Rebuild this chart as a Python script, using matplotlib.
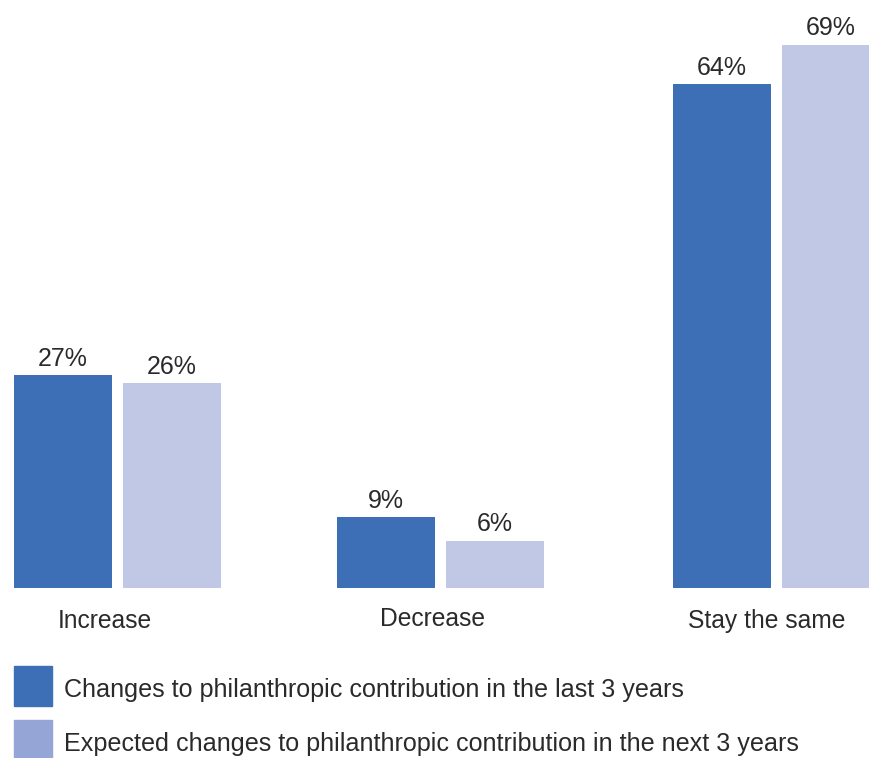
import matplotlib
matplotlib.use("Agg")
import matplotlib.pyplot as plt
from matplotlib.patches import Rectangle

categories = ["Increase", "Decrease", "Stay the same"]
last_3 = [27, 9, 64]
next_3 = [26, 6, 69]
series_names = ["Changes to philanthropic contribution in the last 3 years",
                "Expected changes to philanthropic contribution in the next 3 years"]

dark = "#3d6fb6"
light = "#c0c8e6"
light_legend = "#94a5d6"

plt.rcParams['font.family'] = ['Liberation Sans', 'DejaVu Sans']

fig = plt.figure(figsize=(8.69, 7.58), dpi=100)
ax = fig.add_axes([0, 0, 1, 1])
# pixel-like coordinates: x in px, y in percent with baseline 588px from top
px_per_pct = 7.875
base = 588
ax.set_xlim(0, 869)
ax.set_ylim(-(758 - base) / px_per_pct, base / px_per_pct)
ax.axis("off")


def ypx(y):
    # pixel row from top -> data units
    return (base - y) / px_per_pct


group_x = [117.5, 440.5, 776.5]
w = 98
off = 54.5
b1 = ax.bar([g - off for g in group_x], last_3, width=w, color=dark)
b2 = ax.bar([g + off for g in group_x], next_3, width=w, color=light)

for bars, vals in [(b1, last_3), (b2, next_3)]:
    for r, v in zip(bars, vals):
        ax.text(r.get_x() + r.get_width() / 2, v + 0.55, f"{v}%",
                ha="center", va="bottom", fontsize=18, color="#2a2a2a")

label_x = [105, 433, 767]
label_y = [621, 619, 621]
for lx, ly, c in zip(label_x, label_y, categories):
    ax.text(lx, ypx(ly), c, ha="center", va="center", fontsize=17.7, color="#2a2a2a")

# legend
for i, (name, col) in enumerate(zip(series_names, [dark, light_legend])):
    ycen = 686 + i * 54
    ax.add_patch(Rectangle((14, ypx(ycen + 20)), 38, 40 / px_per_pct,
                           color=col, clip_on=False))
    ax.text(64, ypx(ycen + 4), name, ha="left", va="center", fontsize=18.1, color="#2a2a2a")

fig.savefig("out.png", dpi=100)
